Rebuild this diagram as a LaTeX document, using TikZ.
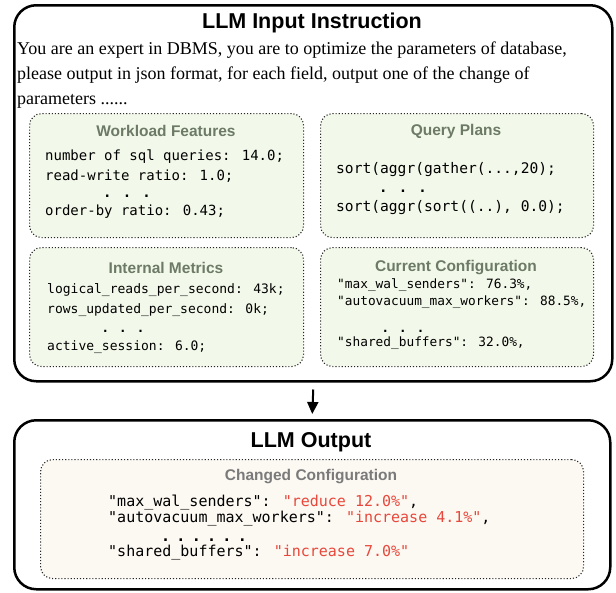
\documentclass[tikz,border=0pt]{standalone}
\usepackage{fontspec}
\setmainfont{Liberation Serif}
\newfontfamily\hfont{Liberation Sans}
\newfontfamily\mfont{DejaVu Sans Mono}
\usetikzlibrary{arrows.meta}
\definecolor{boxgreen}{HTML}{F3F9EA}
\definecolor{boxbeige}{HTML}{FCF8F2}
\definecolor{titlegreen}{HTML}{6C7A66}
\definecolor{titlegray}{HTML}{7A7A7A}
\definecolor{cfgred}{HTML}{E8483B}
\tikzset{
  outerbox/.style={draw=black, line width=2.5pt, rounded corners=22pt, anchor=north west, inner sep=0},
  innerbox/.style={draw=black!85, dotted, line width=1.1pt, rounded corners=12pt, fill=boxgreen, anchor=north west, inner sep=0},
  bigtitle/.style={font=\hfont\bfseries\fontsize{21.5}{24}\selectfont, inner sep=0},
  boxtitle/.style={font=\hfont\bfseries\fontsize{15.5}{18}\selectfont, text=titlegreen, inner sep=0},
  bodytext/.style={font=\fontsize{18}{22}\selectfont, anchor=base west, inner sep=0},
  monoA/.style={font=\mfont\fontsize{14}{16}\selectfont, anchor=west, inner sep=0},
  monoQ/.style={font=\mfont\fontsize{14.6}{16}\selectfont, anchor=west, inner sep=0},
  monoB/.style={font=\mfont\fontsize{13}{15}\selectfont, anchor=west, inner sep=0},
  monoC/.style={font=\mfont\fontsize{12.8}{15}\selectfont, anchor=west, inner sep=0},
  monoO/.style={font=\mfont\fontsize{15}{17}\selectfont, anchor=west, inner sep=0},
  dotrow/.style={font=\mfont\bfseries\fontsize{14}{16}\selectfont, inner sep=0, anchor=base, text height=2pt, text depth=0pt},
}
\begin{document}
\begin{tikzpicture}[x=1pt,y=-1pt]
\useasboundingbox (0,0) rectangle (616,592);
% input box
\node[outerbox, minimum width=598pt, minimum height=376pt] (inbox) at (13,4) {};
\node[bigtitle] (intitle) at (312,23) {LLM Input Instruction};
\node[bodytext] (l1) at (17,54) {You are an expert in DBMS, you are to optimize the parameters of database,};
\node[bodytext] (l2) at (17,79) {please output in json format, for each field, output one of the change of};
\node[bodytext] (l3) at (17,104) {parameters ......};
% inner boxes
\node[innerbox, minimum width=274pt, minimum height=124pt] (wf) at (29,113) {};
\node[innerbox, minimum width=273pt, minimum height=124pt] (qp) at (320,113) {};
\node[innerbox, minimum width=274pt, minimum height=119pt] (im) at (29,247) {};
\node[innerbox, minimum width=273pt, minimum height=119pt] (cc) at (320,247) {};
% workload features
\node[boxtitle] (wft) at (166,131) {Workload Features};
\node[monoA] (wf1) at (45,157) {number of sql queries: 14.0;};
\node[monoA] (wf2) at (45,176) {read-write ratio: 1.0;};
\node[dotrow] (wfd) at (127,197) {. . .};
\node[monoA] (wf3) at (45,212) {order-by ratio: 0.43;};
% query plans
\node[boxtitle] (qpt) at (456,131) {Query Plans};
\node[monoQ] (qp1) at (336,170) {sort(aggr(gather(...,20);};
\node[dotrow] (qpd) at (403,192) {. . .};
\node[monoQ] (qp2) at (336,208) {sort(aggr(sort((..), 0.0);};
% internal metrics
\node[boxtitle] (imt) at (166,268) {Internal Metrics};
\node[monoB] (im1) at (47,290) {logical\_reads\_per\_second: 43k;};
\node[monoB] (im2) at (47,310) {rows\_updated\_per\_second: 0k;};
\node[dotrow, font=\mfont\bfseries\fontsize{12.5}{15}\selectfont] (imd) at (123,332) {. . .};
\node[monoB] (im3) at (47,347) {active\_session: 6.0;};
% current configuration
\node[boxtitle] (cct) at (456,268) {Current Configuration};
\node[monoC] (cc1) at (337,285) {"max\_wal\_senders": 76.3\%,};
\node[monoC] (cc2) at (337,302) {"autovacuum\_max\_workers": 88.5\%,};
\node[dotrow, font=\mfont\bfseries\fontsize{12.5}{15}\selectfont] (ccd) at (403,332) {. . .};
\node[monoC] (cc3) at (337,343) {"shared\_buffers": 32.0\%,};
% output box and arrow
\node[outerbox, minimum width=596pt, minimum height=169pt] (outbox) at (13,419) {};
\draw[line width=2pt, -{Triangle[length=12pt,width=11pt]}] ([yshift=-7pt]inbox.south) -- ([yshift=5pt]outbox.north);
\node[bigtitle] (outtitle) at (311,442) {LLM Output};
\node[innerbox, fill=boxbeige, minimum width=543pt, minimum height=119pt] (ob) at (40,459) {};
\node[boxtitle, text=titlegray] (obt) at (311,477) {Changed Configuration};
\node[monoO] (o1) at (108,503) {"max\_wal\_senders": \textcolor{cfgred}{"reduce 12.0\%"},};
\node[monoO] (o2) at (108,519) {"autovacuum\_max\_workers": \textcolor{cfgred}{"increase 4.1\%"},};
\node[dotrow, font=\mfont\bfseries\fontsize{15}{17}\selectfont] (od) at (204,541) {.\hspace{6.3pt}.\hspace{6.3pt}.\hspace{6.3pt}.\hspace{6.3pt}.\hspace{6.3pt}.};
\node[monoO] (o3) at (108,553) {"shared\_buffers": \textcolor{cfgred}{"increase 7.0\%"}};
\end{tikzpicture}
\end{document}
